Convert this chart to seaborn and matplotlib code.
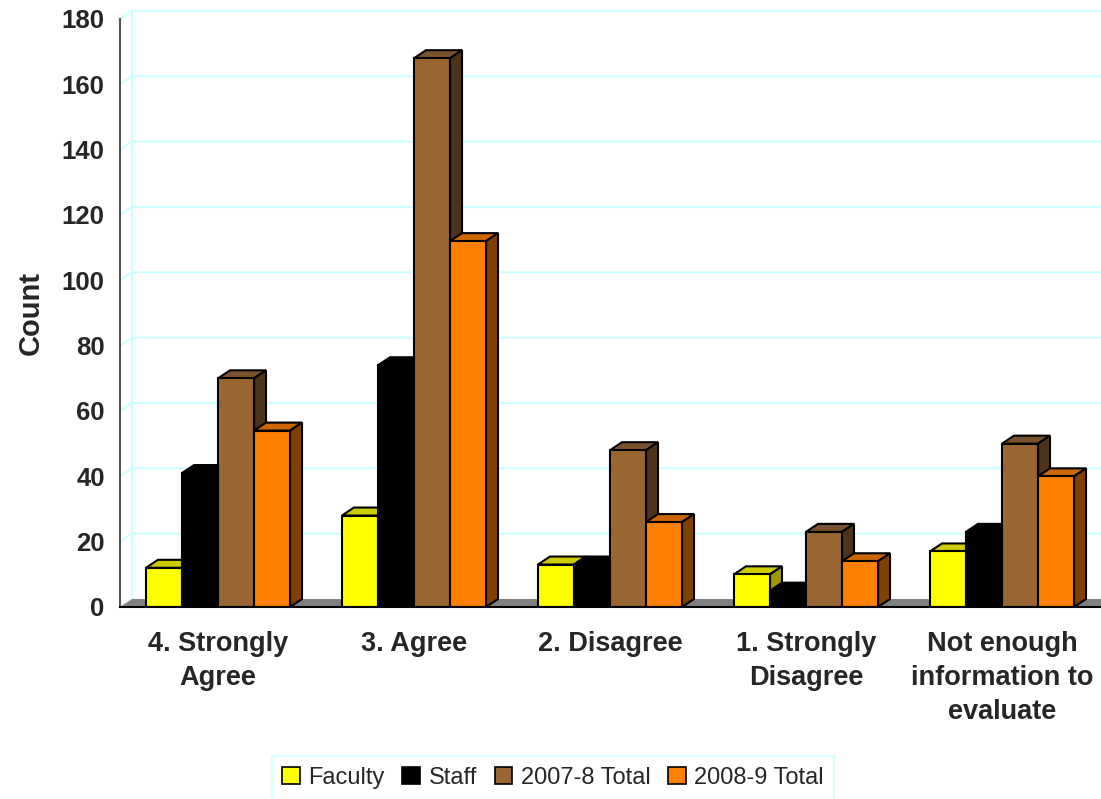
import numpy as np
import pandas as pd
import matplotlib
matplotlib.use('Agg')
import matplotlib.pyplot as plt
import seaborn as sns
from matplotlib.patches import Polygon, Patch, Rectangle

# Survey counts per response
responses = ['4. Strongly\nAgree', '3. Agree', '2. Disagree',
             '1. Strongly\nDisagree', 'Not enough\ninformation to\nevaluate']
groups = ['Faculty', 'Staff', '2007-8 Total', '2008-9 Total']
faculty = [12, 28, 13, 10, 17]
staff = [41, 74, 13, 5, 23]
total_2007 = [70, 168, 48, 23, 50]
total_2008 = [54, 112, 26, 14, 40]

front_colors = ['#ffff00', '#000000', '#996633', '#ff8000']
top_colors = ['#cccc00', '#000000', '#7a5230', '#cc6600']
side_colors = ['#999900', '#000000', '#4d3319', '#804000']

df = pd.DataFrame({
    'Response': responses * 4,
    'Group': np.repeat(groups, len(responses)),
    'Count': faculty + staff + total_2007 + total_2008,
})

sns.set_style('white')
plt.rcParams['font.family'] = ['Liberation Sans', 'DejaVu Sans']

fig = plt.figure(figsize=(11.01, 7.99), dpi=100)
ax = fig.add_axes([120 / 1101, (799 - 607) / 799, 980 / 1101, 588 / 799])

sns.barplot(data=df, x='Response', y='Count', hue='Group', order=responses,
            hue_order=groups, palette=front_colors, saturation=1, width=0.735,
            edgecolor='black', linewidth=1.5, legend=False, ax=ax)

ax.set_xlim(-0.5, 4.5)
ax.set_ylim(0, 180)

bars = [p for p in ax.patches if isinstance(p, Rectangle) and p.get_height() > 0]

# 3D depth offset in data units
dx = 12 / 196
dy = 8 / (588 / 180)

# back wall grid and floor
yticks = np.arange(0, 181, 20)
for y in yticks[1:]:
    ax.plot([-0.5, -0.5 + dx, 4.6], [y, y + dy, y + dy], color='#ccffff',
            lw=1.5, zorder=0.5, clip_on=False)
ax.plot([-0.5 + dx, -0.5 + dx], [dy, 180 + dy], color='#ccffff', lw=1.5,
        zorder=0.5, clip_on=False)
ax.add_patch(Polygon([(-0.5, 0), (4.5 + dx, 0), (4.5 + dx, dy), (-0.5 + dx, dy)],
                     closed=True, facecolor='#808080', edgecolor='none',
                     zorder=0.8, clip_on=False))

# 3D top and side faces
for idx, bar in enumerate(bars):
    hue = idx // len(responses)
    x0 = bar.get_x()
    x1 = x0 + bar.get_width()
    h = bar.get_height()
    z = 2 + x0 * 0.1
    bar.set_zorder(z + 0.01)
    ax.add_patch(Polygon([(x0, h), (x0 + dx, h + dy), (x1 + dx, h + dy), (x1, h)],
                         closed=True, facecolor=top_colors[hue], edgecolor='black',
                         lw=1.5, zorder=z, clip_on=False))
    ax.add_patch(Polygon([(x1, 0), (x1, h), (x1 + dx, h + dy), (x1 + dx, dy)],
                         closed=True, facecolor=side_colors[hue], edgecolor='black',
                         lw=1.5, zorder=z, clip_on=False))

sns.despine(ax=ax, top=True, right=True)
ax.spines['left'].set_color('#555555')
ax.spines['left'].set_linewidth(1.5)
ax.spines['bottom'].set_color('black')
ax.spines['bottom'].set_linewidth(1.5)
ax.spines['bottom'].set_zorder(5)

ax.set_yticks(yticks)
ax.set_yticklabels([str(v) for v in yticks], fontsize=18.5, fontweight='bold')
ax.tick_params(axis='y', length=6, width=1.2, color='#555555', pad=5, direction='out')

ax.set_xticks(range(len(responses)))
ax.set_xticklabels(responses, fontsize=19.5, fontweight='bold', linespacing=1.42)
ax.set_xticks(np.arange(-0.5, 5, 1), minor=True)
ax.tick_params(axis='x', which='major', length=0, pad=17)
ax.tick_params(axis='x', which='minor', length=8, width=1.2, color='#555555',
               direction='out')

ax.set_xlabel('')
ax.set_ylabel('Count', fontsize=21, fontweight='bold', labelpad=12)

handles = [Patch(facecolor=c, edgecolor='black', lw=1.2) for c in front_colors]
leg = fig.legend(handles, groups, loc='center', bbox_to_anchor=(553 / 1101, 1 - 778 / 799),
                 ncol=4, fontsize=17, frameon=True, fancybox=False,
                 handlelength=0.75, handleheight=0.75, handletextpad=0.35,
                 columnspacing=0.75, borderpad=0.45)
leg.get_frame().set_edgecolor('#ccffff')
leg.get_frame().set_linewidth(1.5)

fig.savefig('out.png', dpi=100)
